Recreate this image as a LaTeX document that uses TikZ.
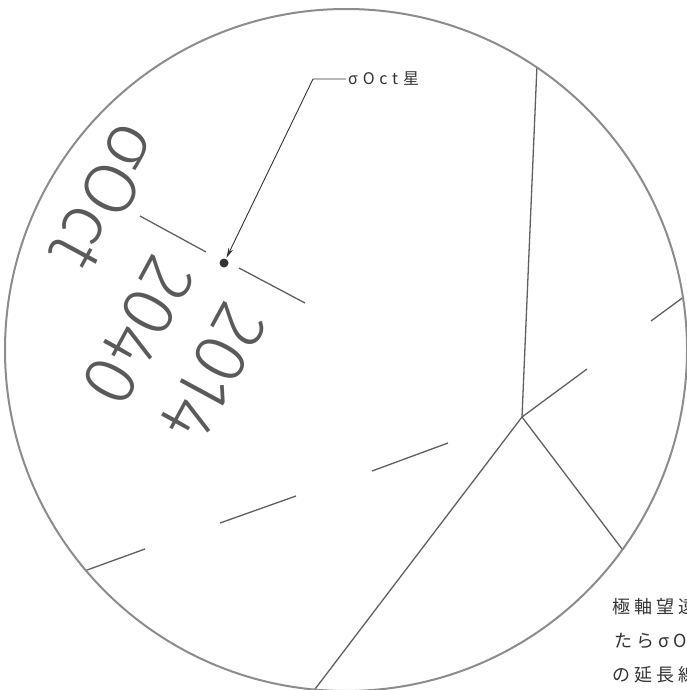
\documentclass[tikz,border=0pt]{standalone}
\usepackage{fontspec}
\newfontfamily\thinfont{Fira Sans Light}
\newfontfamily\jplabel[LetterSpace=30]{Noto Sans CJK JP}
\newfontfamily\jpbody[LetterSpace=22]{Noto Sans CJK JP}
\usetikzlibrary{arrows.meta}
\definecolor{ringgray}{HTML}{8C8C8C}
\definecolor{linegray}{HTML}{5F5F5F}
\definecolor{inkgray}{HTML}{5A5A5A}
\definecolor{darkink}{HTML}{333333}
\begin{document}
\begin{tikzpicture}[x=1pt,y=-1pt,
  ring/.style={draw=ringgray, line width=2pt},
  reticle/.style={draw=linegray, line width=1.3pt},
  yeartext/.style={text=inkgray, font=\thinfont\fontsize{74}{74}\selectfont, inner sep=0pt, rotate=-118.5},
  leader/.style={draw=darkink, line width=0.9pt},
  labeltext/.style={text=darkink, font=\jplabel\fontsize{16}{16}\selectfont, inner sep=2pt},
  bodytext/.style={text=darkink, font=\jpbody\fontsize{18}{18}\selectfont, inner sep=0pt, anchor=west}]
\clip (0,0) rectangle (687,690);
\useasboundingbox (0,0) rectangle (687,690);
\coordinate (C) at (346,350);
\coordinate (J) at (522,417);
% reticle lines, clipped to the field of view
\begin{scope}
  \clip (C) circle[radius=341pt];
  \draw[reticle] (538.5,30) -- (J);
  \draw[reticle] (J) -- (587,369);
  \draw[reticle] (651,321) -- (700,285);
  \draw[reticle] (J) -- (641,574);
  \draw[reticle] (J) -- (309,697);
  \draw[reticle] (372,471) -- (448,443);
  \draw[reticle] (220,523) -- (296,496);
  \draw[reticle] (65,578) -- (145,549);
  \draw[reticle] (140,216) -- (206,252);
  \draw[reticle] (239,268) -- (305,303);
\end{scope}
\draw[ring] (C) circle[radius=341pt];
% star
\node[circle, fill=darkink, minimum size=9pt, inner sep=0pt] (star) at (224,263) {};
% rotated labels
\node[yeartext] (oct) at (106,197) {σOct};
\node[yeartext] (y2040) at (138,331) {2040};
\node[yeartext] (y2014) at (213,373) {2014};
% callout
\coordinate (elbow) at (313,79);
\node[labeltext, anchor=west] (lab) at (346,79) {σOct星};
\draw[leader, -{Stealth[length=10pt,width=5pt]}, shorten >=1pt] (lab.west) -- (elbow) -- (star);
% body text (clipped at the right edge)
\node[bodytext] (t1) at (612,607) {極軸望遠鏡を};
\node[bodytext] (t2) at (614,641) {たらσOct星};
\node[bodytext] (t3) at (612,675) {の延長線上};
\end{tikzpicture}
\end{document}
